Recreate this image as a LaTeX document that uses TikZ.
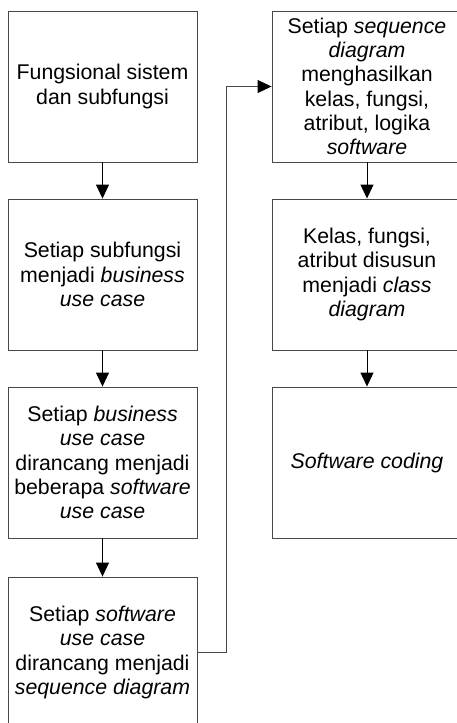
\documentclass[tikz,border=0pt]{standalone}
\usepackage{fontspec}
\setmainfont{Liberation Sans}
\usetikzlibrary{arrows.meta}
\begin{document}
\begin{tikzpicture}[x=1pt,y=-1pt,
  box/.style={draw=black!72, line width=0.9pt, minimum width=189pt, minimum height=151pt,
    inner sep=0pt, align=center, text=black, font=\fontsize{21.3}{24.3}\selectfont},
  flow/.style={draw=black, line width=0.9pt, -{Triangle[length=14pt,width=13pt]}},
  route/.style={draw=black!72, line width=0.9pt, -{Triangle[length=14pt,width=13pt,color=black]}}]
\useasboundingbox (0,0) rectangle (457,723);
\clip (0,0) rectangle (457,723);
\fill[white] (0,0) rectangle (457,723);
\node[box] (b1) at (102.5,86.5) {Fungsional sistem\\dan subfungsi};
\node[box] (b2) at (102.5,274.5) {Setiap subfungsi\\menjadi \textit{business}\\\textit{use case}};
\node[box] (b3) at (102.5,462.5) {Setiap \textit{business}\\\textit{use case}\\dirancang menjadi\\beberapa \textit{software}\\\textit{use case}};
\node[box] (b4) at (102.5,652.5) {Setiap \textit{software}\\\textit{use case}\\dirancang menjadi\\\textit{sequence diagram}};
\node[box, minimum width=190pt] (b5) at (367,86.5) {Setiap \textit{sequence}\\\textit{diagram}\\menghasilkan\\kelas, fungsi,\\atribut, logika\\\textit{software}};
\node[box, minimum width=190pt] (b6) at (367,274.5) {Kelas, fungsi,\\atribut disusun\\menjadi \textit{class}\\\textit{diagram}};
\node[box, minimum width=190pt] (b7) at (367,462.5) {\textit{Software coding}};
\draw[flow] (b1) -- (b2);
\draw[flow] (b2) -- (b3);
\draw[flow] (b3) -- (b4);
\draw[route] (b4.east) -- ++(29,0) |- (b5.west);
\draw[flow] (b5) -- (b6);
\draw[flow] (b6) -- (b7);
\end{tikzpicture}
\end{document}
